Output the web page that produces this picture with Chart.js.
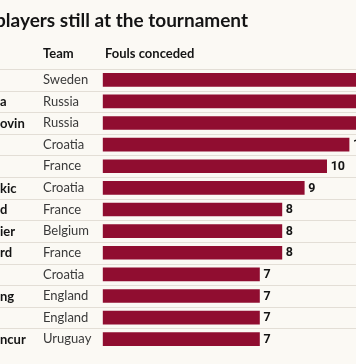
<!DOCTYPE html>
<html>
<head>
<meta charset="utf-8">
<script src="https://cdn.jsdelivr.net/npm/chart.js@4.4.1/dist/chart.umd.min.js"></script>
<style>
  html, body { margin: 0; padding: 0; background: #fbf9f4; overflow: hidden; }
  #wrap { width: 356px; height: 364px; position: relative; }
</style>
</head>
<body>
<div id="wrap"><canvas id="c" width="356" height="364"></canvas></div>
<script>
// ---- data ----
const titleText = 'players still at the tournament';
const teamHeader = 'Team';
const valueHeader = 'Fouls conceded';
const teams = ['Sweden','Russia','Russia','Croatia','France','Croatia','France','Belgium','France','Croatia','England','England','Uruguay'];
const names = ['', 'a', 'ovin', '', '', 'kic', 'd', 'ier', 'rd', '', 'ng', '', 'ncur'];
const fouls = [13, 12, 12, 11, 10, 9, 8, 8, 8, 7, 7, 7, 7];

const BG = '#fbf9f4';
const BAR = '#900d30';
const INK = '#141414';
const TEAMINK = '#3a3a3a';
const RULE = '#e3ded6';
const FONT = 'Lato, "Open Sans", sans-serif';

const decorPlugin = {
  id: 'decor',
  beforeDraw(chart) {
    const ctx = chart.ctx;
    ctx.save();
    ctx.fillStyle = BG;
    ctx.fillRect(0, 0, chart.width, chart.height);
    ctx.restore();
  },
  beforeDatasetsDraw(chart) {
    const ctx = chart.ctx;
    const y = chart.scales.y;
    const half = (y.getPixelForValue(1) - y.getPixelForValue(0)) / 2;
    ctx.save();
    ctx.strokeStyle = RULE;
    ctx.lineWidth = 1;
    for (let i = 0; i < teams.length; i++) {
      const py = Math.round(y.getPixelForValue(i) - half) + 0.5;
      ctx.beginPath();
      ctx.moveTo(0, py);
      ctx.lineTo(chart.width, py);
      ctx.stroke();
    }
    // player name fragments (column cut at left edge)
    ctx.fillStyle = INK;
    ctx.font = 'bold 13px ' + FONT;
    ctx.textAlign = 'left';
    ctx.textBaseline = 'middle';
    names.forEach((n, i) => {
      if (n) ctx.fillText(n, 0, y.getPixelForValue(i) + 0.5);
    });
    ctx.restore();
  },
  afterDraw(chart) {
    const ctx = chart.ctx;
    const y = chart.scales.y;
    ctx.save();
    // title
    ctx.fillStyle = INK;
    ctx.font = 'bold 19px ' + FONT;
    ctx.textAlign = 'right';
    ctx.textBaseline = 'alphabetic';
    ctx.fillText(titleText, 248, 27);
    // column headers
    ctx.font = 'bold 13px ' + FONT;
    ctx.textAlign = 'left';
    ctx.fillText(teamHeader, 43, 58);
    ctx.fillText(valueHeader, 105, 58);
    // value labels
    ctx.font = 'bold 12.5px Roboto, sans-serif';
    ctx.textBaseline = 'middle';
    const meta = chart.getDatasetMeta(0);
    meta.data.forEach((bar, i) => {
      ctx.fillText(String(fouls[i]), bar.x + 4, bar.y + 0.5);
    });
    ctx.restore();
  }
};

new Chart(document.getElementById('c'), {
  type: 'bar',
  data: {
    labels: teams,
    datasets: [{
      data: fouls,
      backgroundColor: BAR,
      borderWidth: 0,
      barThickness: 13,
      borderSkipped: false
    }]
  },
  options: {
    indexAxis: 'y',
    responsive: false,
    animation: false,
    devicePixelRatio: 1,
    layout: { padding: { left: 43, top: 69, bottom: 14, right: 0 } },
    plugins: { legend: { display: false }, tooltip: { enabled: false }, title: { display: false } },
    scales: {
      x: { display: false, min: 0, max: 11.31 },
      y: {
        display: true,
        grid: { display: false, drawTicks: false },
        border: { display: false },
        ticks: {
          crossAlign: 'far',
          padding: 0,
          color: TEAMINK,
          font: { family: FONT, size: 13 }
        },
        afterFit(scale) { scale.width = 59.7; }
      }
    }
  },
  plugins: [decorPlugin]
});
</script>
</body>
</html>
